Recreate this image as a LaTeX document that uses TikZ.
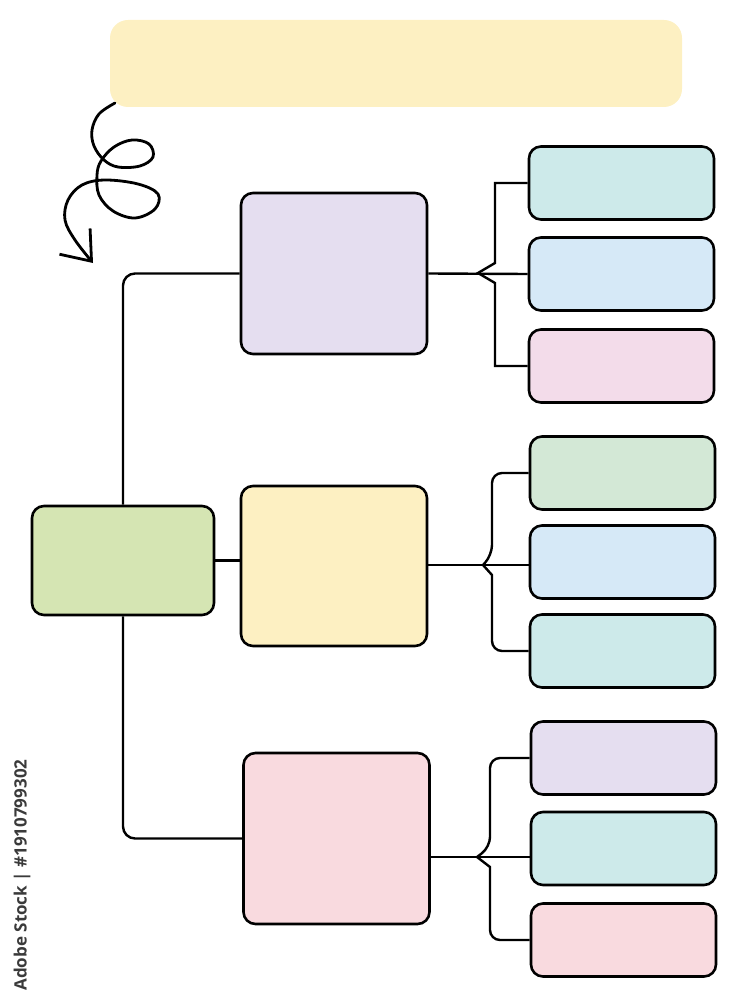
\documentclass[tikz,border=0pt]{standalone}
\usepackage{fontspec}
\setsansfont{Open Sans}
\usetikzlibrary{arrows.meta}
\definecolor{headc}{HTML}{FDF0C2}
\definecolor{rootc}{HTML}{D5E5B3}
\definecolor{lilacc}{HTML}{E5DEF0}
\definecolor{rosec}{HTML}{F9DADF}
\definecolor{tealc}{HTML}{CDEAEA}
\definecolor{skyc}{HTML}{D6E9F7}
\definecolor{orchidc}{HTML}{F3DCEA}
\definecolor{mintc}{HTML}{D3E8D6}
\definecolor{markc}{HTML}{3A3A3A}

\begin{document}
\begin{tikzpicture}[x=1pt,y=-1pt,
  box/.style={draw=black, line width=2.6pt, rounded corners=12pt, inner sep=0pt},
  hub/.style={box, minimum width=186pt, minimum height=160pt},
  leaf/.style={box, minimum width=185pt, minimum height=73pt},
  link/.style={line width=2.4pt},
  swirl/.style={line width=2.8pt, line cap=round, -{Straight Barb[length=26pt,width=40pt]}}]
  \useasboundingbox (0,0) rectangle (750,1000);

  % title bar and swirl
  \node[box, draw=none, fill=headc, rounded corners=18pt, minimum width=572pt, minimum height=87pt] (head) at (396,63.5) {};
  \draw[swirl] plot[smooth, tension=0.6] coordinates {(115,103) (99,114) (92,130) (94,146) (104,160) (118,167) (140,166) (153,157) (149,144) (132,140) (114,147) (101,161) (97,175) (99,195) (113,211) (135,218) (155,209) (158,194) (138,184) (105,180) (82,185) (68,200) (65,220) (75,240) (93,263)};

  % main branches
  \node[box, fill=rootc, minimum width=182pt, minimum height=109pt] (root) at (123,560.5) {};
  \node[hub, fill=lilacc, minimum height=161pt] (mid1) at (334,273.5) {};
  \node[hub, fill=headc] (mid2) at (334,566) {};
  \node[hub, fill=rosec, minimum height=171pt] (mid3) at (336.5,838.5) {};

  % leaves
  \node[leaf, fill=tealc] (b11) at (621.5,183) {};
  \node[leaf, fill=skyc] (b12) at (621.5,274) {};
  \node[leaf, fill=orchidc] (b13) at (621.5,366) {};
  \node[leaf, fill=mintc] (b21) at (622.5,473) {};
  \node[leaf, fill=skyc] (b22) at (622.5,562) {};
  \node[leaf, fill=tealc] (b23) at (622.5,651) {};
  \node[leaf, fill=lilacc] (b31) at (623.5,758) {};
  \node[leaf, fill=tealc] (b32) at (623.5,848.5) {};
  \node[leaf, fill=rosec] (b33) at (623.5,940) {};

  \coordinate (tip1) at (478,273);
  \coordinate (tip2) at (483,565);
  \coordinate (tip3) at (477,857);

  \draw[link, rounded corners=12pt] (root.north) |- (mid1.west);
  \draw[link] (root.east) -- (root.east -| mid2.west);
  \draw[link, rounded corners=12pt] (root.south) |- (mid3.west);

  \draw[link] (mid1.east) -- (b12.west);
  \draw[link] (b11.west) -| ([xshift=17pt,yshift=10pt]tip1) -- (tip1)
    -- ([xshift=17pt,yshift=-10pt]tip1) |- (b13.west);

  \draw[link] (tip2 -| mid2.east) -- (tip2 -| b22.west);
  \draw[link] (b21.west) [rounded corners=10pt] -| ([xshift=9pt,yshift=10pt]tip2)
    [sharp corners] -- (tip2) -- ([xshift=9pt,yshift=-10pt]tip2)
    [rounded corners=10pt] |- (b23.west);

  \draw[link] (tip3 -| mid3.east) -- (tip3 -| b32.west);
  \draw[link] (b31.west) [rounded corners=10pt] -| ([xshift=13pt,yshift=10pt]tip3)
    [sharp corners] -- (tip3) -- ([xshift=13pt,yshift=-10pt]tip3)
    [rounded corners=10pt] |- (b33.west);

  \node[rotate=90, text=markc, font=\sffamily\bfseries\fontsize{17}{20}\selectfont, inner sep=0pt] (mark) at (22,875) {Adobe Stock | \#1910799302};
\end{tikzpicture}
\end{document}
